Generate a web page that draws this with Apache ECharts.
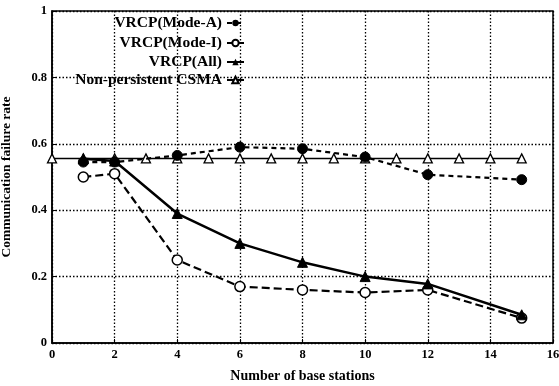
<!DOCTYPE html>
<html><head><meta charset="utf-8">
<script src="https://cdn.jsdelivr.net/npm/echarts@6/dist/echarts.min.js"></script>
<style>html,body{margin:0;padding:0;background:#fff}#c{width:559px;height:386px}</style>
</head><body><div id="c"></div>
<script>
const modeAX = [1, 2, 4, 6, 8, 10, 12, 15];
const modeAY = [0.545, 0.545, 0.565, 0.59, 0.585, 0.56, 0.507, 0.492];
const modeIX = [1, 2, 4, 6, 8, 10, 12, 15];
const modeIY = [0.50, 0.51, 0.25, 0.17, 0.16, 0.152, 0.16, 0.075];
const allX = [1, 2, 4, 6, 8, 10, 12, 15];
const allY = [0.555, 0.548, 0.39, 0.30, 0.243, 0.20, 0.178, 0.085];
const csmaX = [0, 1, 2, 3, 4, 5, 6, 7, 8, 9, 10, 11, 12, 13, 14, 15];
const csmaY = [0.556, 0.556, 0.556, 0.556, 0.556, 0.556, 0.556, 0.556, 0.556, 0.556, 0.556, 0.556, 0.556, 0.556, 0.556, 0.556];
const xTicks = [0, 2, 4, 6, 8, 10, 12, 14, 16];
const yTicks = [0, 0.2, 0.4, 0.6, 0.8, 1];
const names = ['VRCP(Mode-A)', 'VRCP(Mode-I)', 'VRCP(All)', 'Non-persistent CSMA'];

const pair = (xs, ys) => xs.map((x, i) => [x, ys[i]]);
const font = '"Liberation Serif", "DejaVu Serif", serif';
const chart = echarts.init(document.getElementById('c'), null, {renderer: 'canvas'});
const legendTops = [15, 35, 54, 72];
chart.setOption({
  animation: false,
  backgroundColor: '#fff',
  textStyle: {fontFamily: font},
  grid: {left: 52, right: 6, top: 11, bottom: 43, show: true, borderColor: '#000', borderWidth: 1.5,
    backgroundColor: 'transparent', containLabel: false, outerBoundsMode: 'none'},
  legend: names.map((n, i) => ({
    data: [n], right: 314, top: legendTops[i], orient: 'vertical', align: 'right',
    itemWidth: 17, itemHeight: 8, itemGap: 0, padding: 0,
    textStyle: {fontFamily: font, fontWeight: 'bold', fontSize: 15.5, color: '#000', padding: [0, 0, 0, 0]}
  })),
  xAxis: {
    type: 'value', min: 0, max: 16, interval: 2,
    name: 'Number of base stations', nameLocation: 'middle', nameGap: 26,
    nameTextStyle: {fontFamily: font, fontWeight: 'bold', fontSize: 14, color: '#000'},
    axisLine: {show: true, lineStyle: {color: '#000', width: 1.5}},
    axisTick: {show: true, inside: true, length: 4, lineStyle: {color: '#000'}},
    axisLabel: {fontFamily: font, fontWeight: 'bold', fontSize: 12.5, color: '#000', margin: 5,
      formatter: v => xTicks.includes(v) ? String(v) : ''},
    splitLine: {show: true, lineStyle: {color: '#000', type: [1.5, 2], width: 1.3}}
  },
  yAxis: {
    type: 'value', min: 0, max: 1, interval: 0.2,
    name: 'Communication failure rate', nameLocation: 'middle', nameGap: 38,
    nameTextStyle: {fontFamily: font, fontWeight: 'bold', fontSize: 13.5, color: '#000'},
    axisLine: {show: true, lineStyle: {color: '#000', width: 1.5}},
    axisTick: {show: true, inside: true, length: 4, lineStyle: {color: '#000'}},
    axisLabel: {fontFamily: font, fontWeight: 'bold', fontSize: 12.5, color: '#000', margin: 5,
      formatter: v => { const t = yTicks.find(k => Math.abs(k - v) < 1e-9); return t === undefined ? '' : String(t); }},
    splitLine: {show: true, lineStyle: {color: '#000', type: [1.5, 2], width: 1.3}}
  },
  series: [
    {name: names[3], type: 'line', data: pair(csmaX, csmaY), symbol: 'triangle', symbolSize: 9,
      itemStyle: {color: '#fff', borderColor: '#000', borderWidth: 1.3},
      lineStyle: {color: '#000', width: 1.5}, z: 2},
    {name: names[0], type: 'line', data: pair(modeAX, modeAY), symbol: 'circle', symbolSize: 10,
      itemStyle: {color: '#000', borderColor: '#000'},
      lineStyle: {color: '#000', width: 2.2, type: [5, 4]}, z: 3},
    {name: names[1], type: 'line', data: pair(modeIX, modeIY), symbol: 'circle', symbolSize: 10,
      itemStyle: {color: '#fff', borderColor: '#000', borderWidth: 1.5},
      lineStyle: {color: '#000', width: 2.2, type: [8, 4]}, z: 4},
    {name: names[2], type: 'line', data: pair(allX, allY), symbol: 'triangle', symbolSize: 10,
      itemStyle: {color: '#000', borderColor: '#000'},
      lineStyle: {color: '#000', width: 2.5}, z: 5}
  ]
});
</script></body></html>
